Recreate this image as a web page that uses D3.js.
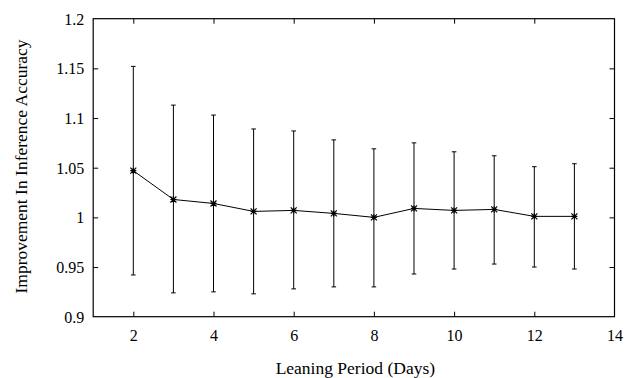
<!DOCTYPE html>
<html><head><meta charset="utf-8">
<script src="https://d3js.org/d3.v7.min.js"></script>
<style>body{margin:0;background:#fff}svg{display:block}</style>
</head><body><script>
const days  = [2, 3, 4, 5, 6, 7, 8, 9, 10, 11, 12, 13];
const means = [1.047, 1.018, 1.014, 1.006, 1.007, 1.004, 1.000, 1.009, 1.007, 1.008, 1.001, 1.001];
const lows  = [0.942, 0.924, 0.925, 0.923, 0.928, 0.930, 0.930, 0.943, 0.948, 0.953, 0.950, 0.948];
const highs = [1.152, 1.113, 1.103, 1.089, 1.087, 1.078, 1.069, 1.075, 1.066, 1.062, 1.051, 1.054];
const xTicks = [2, 4, 6, 8, 10, 12, 14];
const yTicks = [0.9, 0.95, 1.0, 1.05, 1.1, 1.15, 1.2];
const yTickLabels = ["0.9", "0.95", "1", "1.05", "1.1", "1.15", "1.2"];
const xTitle = "Leaning Period (Days)";
const yTitle = "Improvement In Inference Accuracy";

const W = 637, H = 378;
const m = {left: 93.2, right: 22.5, top: 18.7, bottom: 61.3};
const iw = W - m.left - m.right, ih = H - m.top - m.bottom;
const font = "'Liberation Serif','Times New Roman',serif";

const svg = d3.select("body").append("svg").attr("width", W).attr("height", H);
const g = svg.append("g").attr("transform", `translate(${m.left},${m.top})`);

const x = d3.scaleLinear().domain([1, 14]).range([0, iw]);
const y = d3.scaleLinear().domain([0.9, 1.2]).range([ih, 0]);

// frame
g.append("rect").attr("width", iw).attr("height", ih).attr("fill", "none").attr("stroke", "#000").attr("stroke-width", 1.2);

// axes
const xb = g.append("g").attr("transform", `translate(0,${ih})`)
  .call(d3.axisBottom(x).tickValues(xTicks).tickSizeInner(-5).tickSizeOuter(0).tickFormat(d3.format("d")));
const xt = g.append("g")
  .call(d3.axisTop(x).tickValues(xTicks.filter(d => d < 14)).tickSizeInner(-5).tickSizeOuter(0).tickFormat(""));
const yl = g.append("g")
  .call(d3.axisLeft(y).tickValues(yTicks).tickSizeInner(-5).tickSizeOuter(0).tickFormat((d, i) => yTickLabels[i]));
const yr = g.append("g").attr("transform", `translate(${iw},0)`)
  .call(d3.axisRight(y).tickValues(yTicks.filter(d => d > 0.9 && d < 1.2)).tickSizeInner(-5).tickSizeOuter(0).tickFormat(""));

[xb, xt, yl, yr].forEach(a => {
  a.select(".domain").remove();
  a.selectAll("line").attr("stroke", "#000").attr("stroke-width", 1);
});
xb.selectAll("text").attr("font-family", font).attr("font-size", 16).attr("fill", "#000")
  .attr("dy", null).attr("y", 24);
yl.selectAll("text").attr("font-family", font).attr("font-size", 16).attr("fill", "#000")
  .attr("dy", null).attr("x", -9).attr("y", 5.4);
xb.selectAll(".tick").filter(d => d === 14).select("line").remove();
yl.selectAll(".tick").filter(d => d === 0.9 || d === 1.2).select("line").remove();

// error bars
const cap = 2.3;
const eb = g.append("g").attr("stroke", "#000").attr("stroke-width", 1);
days.forEach((d, i) => {
  const cx = x(d);
  eb.append("line").attr("x1", cx).attr("x2", cx).attr("y1", y(lows[i])).attr("y2", y(highs[i]));
  eb.append("line").attr("x1", cx - cap).attr("x2", cx + cap).attr("y1", y(lows[i])).attr("y2", y(lows[i]));
  eb.append("line").attr("x1", cx - cap).attr("x2", cx + cap).attr("y1", y(highs[i])).attr("y2", y(highs[i]));
});

// line
const line = d3.line().x(d => x(d)).y((d, i) => y(means[i]));
g.append("path").datum(days).attr("d", line).attr("fill", "none").attr("stroke", "#000").attr("stroke-width", 1);

// star markers
const s = 3;
const mk = g.append("g").attr("stroke", "#000").attr("stroke-width", 1.2);
days.forEach((d, i) => {
  const cx = x(d), cy = y(means[i]);
  mk.append("path").attr("d",
    `M${cx - s},${cy}H${cx + s}M${cx},${cy - s}V${cy + s}M${cx - s},${cy - s}L${cx + s},${cy + s}M${cx - s},${cy + s}L${cx + s},${cy - s}`);
});

// titles
svg.append("text").attr("font-family", font).attr("font-size", 17.5).attr("fill", "#000")
  .attr("text-anchor", "middle")
  .attr("transform", `translate(${(m.left + W - m.right) / 2 + 1.5},374)`)
  .text(xTitle);
svg.append("text").attr("font-family", font).attr("font-size", 17.5).attr("fill", "#000")
  .attr("text-anchor", "middle")
  .attr("transform", `translate(27,166.5) rotate(-90)`)
  .text(yTitle);
</script></body></html>
